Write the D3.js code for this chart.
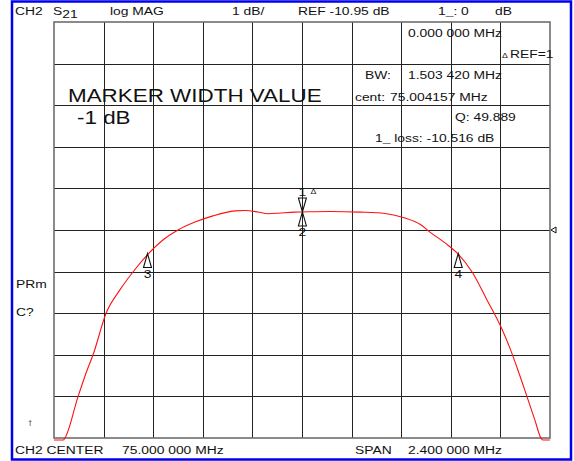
<!DOCTYPE html>
<html>
<head>
<meta charset="utf-8">
<script src="https://cdn.jsdelivr.net/npm/d3@7"></script>
<style>
  body { margin: 0; background: #fff; }
  svg { display: block; }
  text { font-family: "Liberation Sans", Arial, Helvetica, sans-serif; fill: #111; }
</style>
</head>
<body>
<div id="chart"></div>
<script>
// Analyzer settings
const centerFreq = 75.0;      // MHz
const spanFreq = 2.4;         // MHz
const refLevel = -10.95;      // dB
const dbPerDiv = 1;
const divisions = 10;

// S21 trace (MHz, dB)
const traceFreq = [73.80, 73.845, 73.853, 73.916, 73.960, 73.989, 74.052, 74.119, 74.182, 74.255,
  74.327, 74.400, 74.482, 74.569, 74.676, 74.724, 74.787, 74.835, 74.894, 74.966,
  75.002, 75.135, 75.281, 75.402, 75.498, 75.571, 75.619, 75.692, 75.756, 75.823,
  75.895, 75.958, 76.006, 76.045, 76.089, 76.127, 76.156, 76.165, 76.20];
const traceDb = [-16.2, -16.2, -15.95, -14.96, -14.32, -13.95, -12.95, -12.39, -11.96, -11.53,
  -11.19, -10.95, -10.76, -10.61, -10.49, -10.481, -10.517, -10.56, -10.541, -10.52,
  -10.516, -10.505, -10.52, -10.553, -10.66, -10.81, -11.0, -11.26, -11.53, -11.96,
  -12.63, -13.23, -13.79, -14.32, -14.96, -15.52, -15.95, -16.2, -16.2];

// markers
const markerIds = ['1', '2', '3', '4'];
const markerFreq = [75.002, 75.002, 74.2524, 75.7559];
const markerDb = [-10.516, -10.516, -11.516, -11.516];
const markerDir = ['down', 'up', 'up', 'up'];

const width = 574, height = 461;
const grid = { left: 54, right: 550, top: 22, bottom: 438 };
const stretch = 1.26; // the screen font is drawn wide

const svg = d3.select('#chart').append('svg')
    .attr('width', width)
    .attr('height', height);

// blue outer frame
svg.append('rect')
    .attr('x', 12).attr('y', 1.5)
    .attr('width', 559).attr('height', 458)
    .attr('fill', 'none')
    .attr('stroke', '#0000f0')
    .attr('stroke-width', 2.5);

const x = d3.scaleLinear()
    .domain([centerFreq - spanFreq / 2, centerFreq + spanFreq / 2])
    .range([grid.left, grid.right]);

const topDb = refLevel + dbPerDiv * divisions / 2;
const y = d3.scaleLinear()
    .domain([topDb - dbPerDiv * divisions, topDb])
    .range([grid.bottom, grid.top])
    .clamp(true);

// graticule
const vLines = d3.range(divisions + 1).map(i => x.domain()[0] + i * spanFreq / divisions);
const hLines = d3.range(divisions + 1).map(i => topDb - i * dbPerDiv);

svg.append('g').selectAll('line')
    .data(vLines.slice(1, -1))
    .enter().append('line')
    .attr('x1', d => Math.round(x(d)) + 0.5).attr('x2', d => Math.round(x(d)) + 0.5)
    .attr('y1', grid.top).attr('y2', grid.bottom)
    .attr('stroke', '#222').attr('stroke-width', 1);

svg.append('g').selectAll('line')
    .data(hLines.slice(1, -1))
    .enter().append('line')
    .attr('y1', d => Math.round(y(d)) + 0.5).attr('y2', d => Math.round(y(d)) + 0.5)
    .attr('x1', grid.left).attr('x2', grid.right)
    .attr('stroke', '#222').attr('stroke-width', 1);

svg.append('rect')
    .attr('x', grid.left).attr('y', grid.top)
    .attr('width', grid.right - grid.left).attr('height', grid.bottom - grid.top)
    .attr('fill', 'none')
    .attr('stroke', '#6e6e6e').attr('stroke-width', 1.6);

// trace
const traceData = traceFreq.map((f, i) => ({ f: f, db: traceDb[i] }));
const line = d3.line()
    .x(d => x(d.f))
    .y(d => y(d.db) + (d.db < topDb - divisions * dbPerDiv ? 2 : 0))
    .curve(d3.curveMonotoneX);

svg.append('path')
    .datum(traceData)
    .attr('d', line)
    .attr('fill', 'none')
    .attr('stroke', '#ff1010')
    .attr('stroke-width', 1.1);

// reference level pointer on the right edge
const refY = y(refLevel);
svg.append('path')
    .attr('d', `M${grid.right + 1},${refY} L${grid.right + 6},${refY - 3} L${grid.right + 6},${refY + 3} Z`)
    .attr('fill', '#fff').attr('stroke', '#111').attr('stroke-width', 1);

// screen annotations
function label(tx, ty, str, size, anchor) {
    return svg.append('text')
        .attr('transform', `translate(${tx},${ty}) scale(${stretch},1)`)
        .attr('text-anchor', anchor || 'start')
        .style('font-size', (size || 11) + 'px')
        .text(str);
}

// markers
markerIds.forEach((id, i) => {
    const mx = x(markerFreq[i]);
    const my = y(markerDb[i]);
    const s = markerDir[i] === 'down' ? -1 : 1;
    svg.append('path')
        .attr('d', `M${mx},${my} L${mx - 4},${my + s * 14} L${mx + 4},${my + s * 14} Z`)
        .attr('fill', 'none').attr('stroke', '#111').attr('stroke-width', 1.1);
    label(mx, s < 0 ? my - 16 : my + 24, id, 11, 'middle');
    if (id === '1') label(mx + 8, my - 18, '\u0394', 7);
});

label(15, 15, 'CH2');
const s21 = label(53, 15, 'S');
s21.append('tspan').attr('dy', 3).text('21');
label(110, 15, 'log MAG');
label(232, 15, '1 dB/');
label(298, 15, 'REF -10.95 dB');
label(438, 15, '1_: 0');
label(495, 15, 'dB');

label(408, 37, '0.000 000 MHz');
label(502, 58, '\u0394', 7);
label(510, 58, 'REF=1');
label(365, 79, 'BW:');
label(408, 79, '1.503 420 MHz');
label(355, 101, 'cent:');
label(390, 101, '75.004157 MHz');
label(455, 121, 'Q: 49.889');
label(375, 142, '1_ loss: -10.516 dB');

label(68, 102, 'MARKER WIDTH VALUE', 17.8);
label(77, 124, '-1 dB', 17.8);

label(16, 288, 'PRm');
label(16, 316, 'C?');
label(27, 426, '\u2191', 10);

label(15, 454, 'CH2 CENTER');
label(122, 454, '75.000 000 MHz');
label(355, 454, 'SPAN');
label(408, 454, '2.400 000 MHz');
</script>
</body>
</html>
